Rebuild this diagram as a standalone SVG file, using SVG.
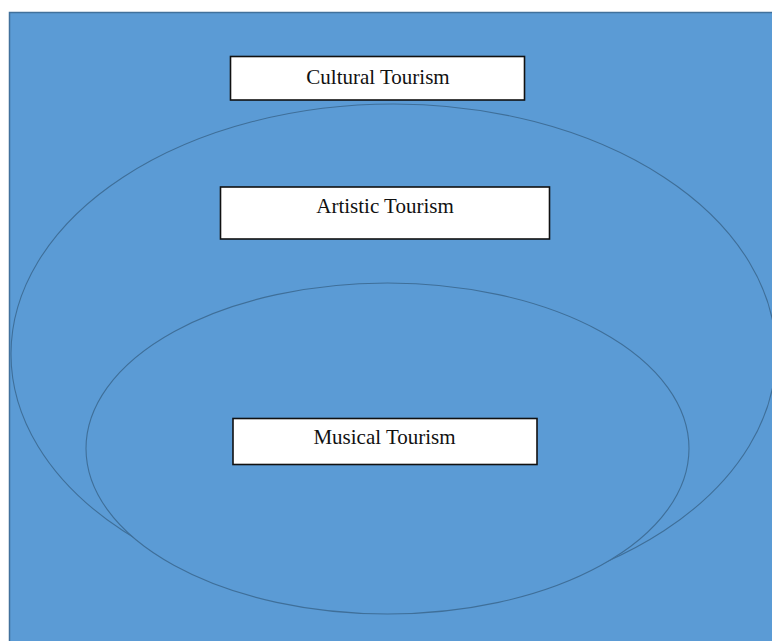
<svg xmlns="http://www.w3.org/2000/svg" width="772" height="641" viewBox="0 0 772 641">
<style>
.bg{fill:#5b9bd5;stroke:#41719c;stroke-width:1.5}
.ring{fill:none;stroke:#3f6f99;stroke-width:1.1}
.ringfill{fill:#5b9bd5;stroke:#3f6f99;stroke-width:1.1}
.box{fill:#ffffff;stroke:#111111;stroke-width:1.6}
.lbl{font-family:"Liberation Serif","Times New Roman",serif;font-size:21px;fill:#111111;text-anchor:middle}
</style>
<rect x="0" y="0" width="772" height="641" fill="#ffffff"/>
<rect class="bg" x="9.5" y="12.5" width="770" height="640"/>
<g id="connectors">
<ellipse id="outer" class="ring" cx="393.5" cy="354" rx="382.5" ry="250"/>
<ellipse id="inner" class="ringfill" cx="387.5" cy="448.5" rx="301.5" ry="165.5"/>
</g>
<g id="cultural">
<rect class="box" x="230.5" y="56.5" width="294" height="43.5"/>
<text class="lbl" x="378" y="84">Cultural Tourism</text>
</g>
<g id="artistic">
<rect class="box" x="220.5" y="187" width="329" height="52"/>
<text class="lbl" x="385" y="213">Artistic Tourism</text>
</g>
<g id="musical">
<rect class="box" x="233" y="418.5" width="304" height="46"/>
<text class="lbl" x="384.5" y="444">Musical Tourism</text>
</g>
</svg>
